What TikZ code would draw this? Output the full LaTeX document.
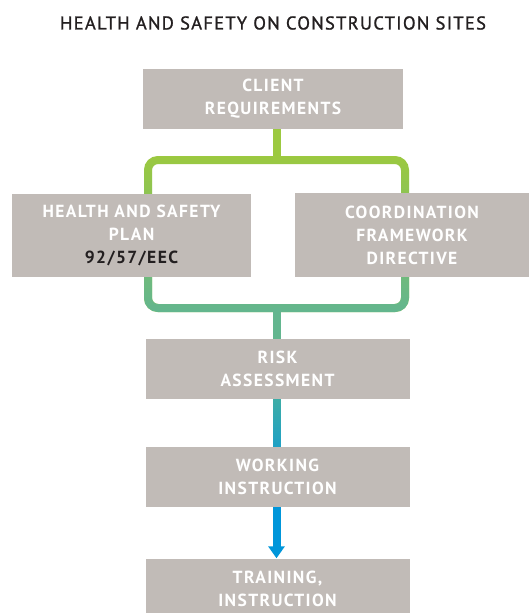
\documentclass[tikz,border=0pt]{standalone}
\usepackage{fontspec}
\newfontfamily\hsfont[LetterSpace=8]{PT Sans}
\newfontfamily\hsheadfont[LetterSpace=7,FakeBold=1.2]{PT Sans}
\usetikzlibrary{positioning}
\usetikzlibrary{arrows.meta}
\usetikzlibrary{fadings}
\definecolor{boxgray}{RGB}{193,187,183}
\definecolor{hstext}{RGB}{35,31,32}
\definecolor{hslime}{RGB}{156,201,64}
\definecolor{hsgreen}{RGB}{99,182,143}
\definecolor{hsteal}{RGB}{64,174,165}
\definecolor{hscyan}{RGB}{28,160,200}
\definecolor{hsblue}{RGB}{0,150,218}
\tikzfading[name=fadeup,top color=transparent!100,bottom color=transparent!0]
\tikzset{heading/.style={text=hstext,inner sep=0pt,font=\hsheadfont\fontsize{18.5}{22}\selectfont}}
\tikzset{block/.style={rectangle,fill=boxgray,text=white,inner sep=0pt,align=center,font=\hsfont\bfseries\fontsize{17.5}{23}\selectfont}}
\tikzset{wide/.style={block,minimum width=264pt,minimum height=60pt}}
\tikzset{line/.style={line width=8pt}}
\tikzset{frame/.style={line,rounded corners=10pt}}
\tikzset{fadeline/.style={line,path fading=fadeup}}

\begin{document}
\begin{tikzpicture}[x=1pt,y=-1pt]
  \useasboundingbox (0,0) rectangle (529,613);
  % Title
  \node[heading] (title) at (273,23) {HEALTH AND SAFETY ON CONSTRUCTION SITES};

  % Junctions
  \coordinate (split) at (277,160);
  \coordinate (join) at (276.5,308);

  % Frame (behind the two middle boxes)
  \draw[frame,draw=hslime] (148,160) rectangle (405,308);
  \draw[frame,draw=hsgreen,path fading=fadeup] (148,160) rectangle (405,308);

  % Boxes
  \node[block,minimum width=260pt,minimum height=60pt] (client) at (273,99) {CLIENT\\REQUIREMENTS};
  \node[block,minimum width=239pt,minimum height=83pt] (plan) at (131.5,235.5) {HEALTH AND SAFETY\\PLAN\\\textcolor{hstext}{92/57/EEC}};
  \node[block,minimum width=234pt,minimum height=84pt] (directive) at (412,235) {COORDINATION\\FRAMEWORK\\DIRECTIVE};
  \node[wide] (risk) at (277.5,369) {RISK\\ASSESSMENT};
  \node[wide] (work) at (277.5,477) {WORKING\\INSTRUCTION};
  \node[wide] (training) at (277.5,588.5) {TRAINING,\\INSTRUCTION};

  % Connectors
  \draw[line,draw=hslime] (client.south -| split) -- (split);
  \draw[line,draw=hsgreen] (join) -- (join |- risk.north);
  \draw[line,draw=hsteal] (risk.south -| join) -- (work.north -| join);
  \draw[fadeline,draw=hscyan] (risk.south -| join) -- (work.north -| join);
  \draw[line,draw=hsblue,-{Triangle[width=16pt,length=12pt]}] (work.south -| join) -- (training.north -| join);
\end{tikzpicture}
\end{document}
